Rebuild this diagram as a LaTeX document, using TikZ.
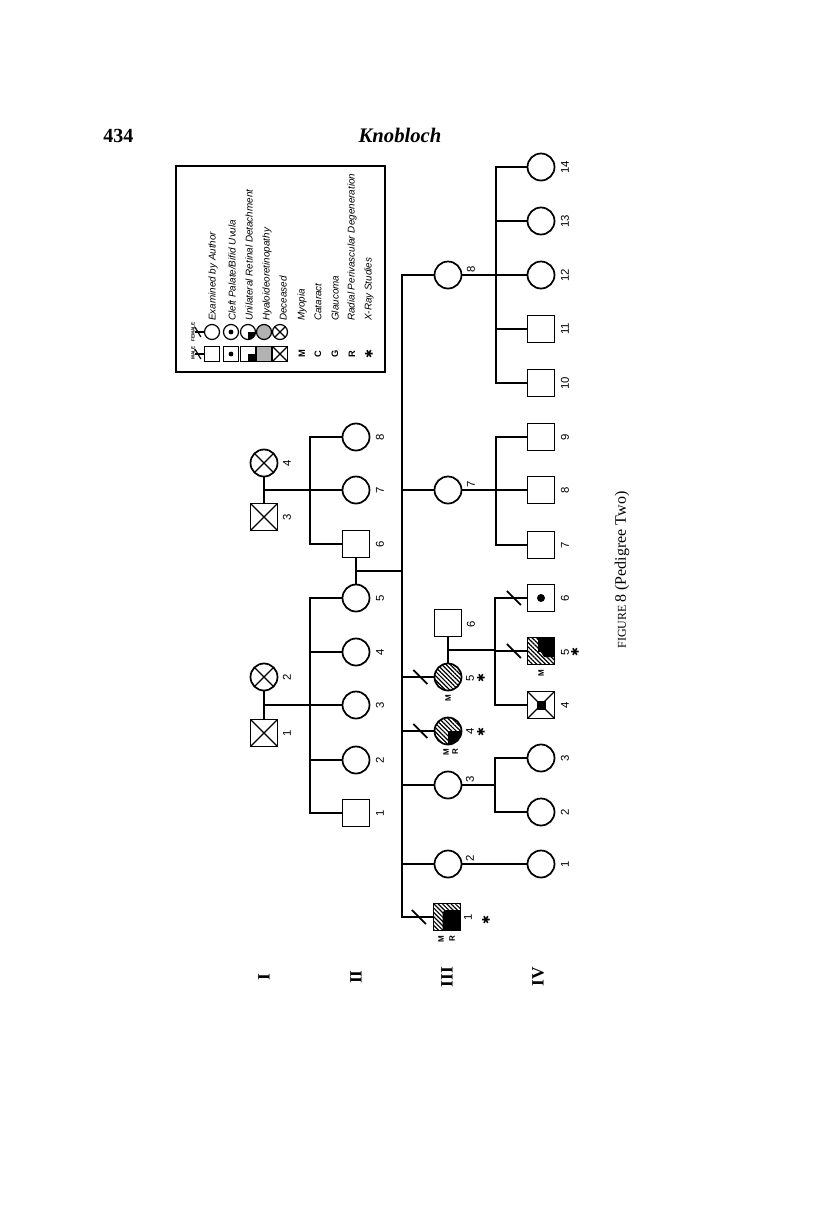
\documentclass[tikz,border=0pt]{standalone}
\usepackage{fontspec}
\setmainfont{Liberation Serif}
\setsansfont{Liberation Sans}
\newfontfamily\dejavu{DejaVu Sans}
\usetikzlibrary{patterns.meta,calc}
\tikzset{
  ln/.style={line width=1.3pt},
  pf/.style={circle, draw, line width=1.3pt, minimum size=20.25pt, inner sep=0pt},
  pm/.style={rectangle, draw, line width=1.3pt, minimum size=20.25pt, inner sep=0pt},
  lf/.style={circle, draw, line width=0.9pt, minimum size=11.25pt, inner sep=0pt},
  lm/.style={rectangle, draw, line width=0.9pt, minimum size=11.25pt, inner sep=0pt},
  hatchfill/.style={pattern={Lines[angle=-45,distance=2.3pt,line width=0.9pt]}},
  hatchonly/.style={path picture={\fill[hatchfill] (path picture bounding box.south west) rectangle (path picture bounding box.north east);}},
  hatchquad/.style={path picture={\fill[hatchfill] (path picture bounding box.south west) rectangle (path picture bounding box.north east);
      \fill (path picture bounding box.center) rectangle (path picture bounding box.south east);}},
  decd/.style={path picture={\draw[line width=1pt] (path picture bounding box.north west) -- (path picture bounding box.south east) (path picture bounding box.north east) -- (path picture bounding box.south west);}},
  cdot/.style={path picture={\fill (path picture bounding box.center) circle (#1);}},
  cdot/.default=3pt,
  quadr/.style={path picture={\fill (path picture bounding box.center) rectangle (path picture bounding box.south east);}},
  numlab/.style={rotate=90, font=\sffamily\fontsize{8.5}{10}\selectfont, inner sep=0pt},
  astr/.style={rotate=90, font=\dejavu\fontsize{8}{9}\selectfont, inner sep=0pt},
  ltr/.style={rotate=90, font=\sffamily\bfseries\fontsize{6}{7}\selectfont, inner sep=0pt},
  legtxt/.style={rotate=90, anchor=west, font=\sffamily\itshape\fontsize{7.4}{8}\selectfont, inner sep=0pt},
  legltr/.style={rotate=90, font=\sffamily\bfseries\fontsize{7}{8}\selectfont, inner sep=0pt},
  gen/.style={rotate=90, font=\bfseries\fontsize{13}{15}\selectfont, inner sep=0pt},
}
\newcommand\examslash[1]{\draw[ln] ($(#1)+(-7,-7)$) -- ($(#1)+(7,7)$);}
\begin{document}
\begin{tikzpicture}[x=0.75pt,y=-0.75pt]
\fill[white] (0,0) rectangle (816,1229);
\useasboundingbox (0,0) rectangle (816,1229);

% header
\node[anchor=base west, inner sep=0pt, font=\bfseries\fontsize{15}{18}\selectfont] (page) at (103,142) {434};
\node[anchor=base, inner sep=0pt, font=\bfseries\itshape\fontsize{15.5}{18}\selectfont] (author) at (400,142) {Knobloch};

% sibship line x positions
\coordinate (sA) at (310,0);
\coordinate (sB) at (402,0);
\coordinate (sC) at (496,0);
\coordinate (sD) at (495,0);

% ---------- Generation I
\node[pm,decd] (I1) at (264,733) {};
\node[pf,decd] (I2) at (264,677) {};
\node[pm,decd] (I3) at (264,517) {};
\node[pf,decd] (I4) at (264,463) {};
\foreach \i in {1,...,4} \node[numlab] (lI\i) at ($(I\i)+(23,0)$) {\i};

% ---------- Generation II
\node[pm] (II1) at (356,813) {};
\node[pf] (II2) at (356,760) {};
\node[pf] (II3) at (356,705) {};
\node[pf] (II4) at (356,652) {};
\node[pf] (II5) at (356,598) {};
\node[pm] (II6) at (356,544) {};
\node[pf] (II7) at (356,490) {};
\node[pf] (II8) at (356,437) {};
\foreach \i in {1,...,8} \node[numlab] (lII\i) at ($(II\i)+(24,0)$) {\i};

% couples of gen I and their children
\draw[ln] (I2) -- (I1);
\coordinate (m1) at ($(I2)!0.5!(I1)$);
\draw[ln] (m1) -- (m1 -| sA);
\draw[ln] (II5.west) -- (II5.west -| sA) -- (II1.west -| sA) -- (II1.west);
\foreach \n in {II2,II3,II4} \draw[ln] (\n.west) -- (\n.west -| sA);

\draw[ln] (I4) -- (I3);
\coordinate (m2) at ($(I4)!0.5!(I3)$);
\draw[ln] (m2) -- (m2 -| sA);
\draw[ln] (II8.west) -- (II8.west -| sA) -- (II6.west -| sA) -- (II6.west);
\draw[ln] (II7.west) -- (II7.west -| sA);

% ---------- Generation III
\node[pm,path picture={\fill[hatchfill] (path picture bounding box.south west) rectangle (path picture bounding box.north east);
   \fill[rounded corners=3pt] ($(path picture bounding box.center)+(-4.5,-7)$) rectangle ($(path picture bounding box.south east)+(3,3)$);}] (III1) at (447,917) {};
\node[pf] (III2) at (448,864) {};
\node[pf] (III3) at (448,785) {};
\node[pf,hatchquad] (III4) at (448,731) {};
\node[pf,hatchonly] (III5) at (448,677) {};
\node[pm] (III6) at (448,623) {};
\node[pf] (III7) at (448,490) {};
\node[pf] (III8) at (448,275) {};

\node[numlab] (lIII1) at (468,917) {1};
\node[numlab] (lIII2) at (470,858) {2};
\node[numlab] (lIII3) at (470,779) {3};
\node[numlab] (lIII4) at (470,731) {4};
\node[numlab] (lIII5) at (470,678) {5};
\node[numlab] (lIII6) at (471,624) {6};
\node[numlab] (lIII7) at (471,484) {7};
\node[numlab] (lIII8) at (471,269) {8};
\node[astr] (aIII1) at (486,920) {✱};
\node[astr] (aIII4) at (481,732) {✱};
\node[astr] (aIII5) at (481,678) {✱};
\node[ltr] (mIII1) at (441,939) {M};
\node[ltr] (rIII1) at (452,939) {R};
\node[ltr] (mIII4) at (446,752) {M};
\node[ltr] (rIII4) at (455,752) {R};
\node[ltr] (mIII5) at (448,698) {M};

% II5 x II6 and their children
\draw[ln] (II6) -- (II5);
\coordinate (m3) at ($(II6)!0.5!(II5)$);
\draw[ln] (m3) -- (m3 -| sB);
\draw[ln] (III8.west) -- (III8.west -| sB) -- (III1.west -| sB) -- (III1.west);
\foreach \n in {III7,III5,III4,III3,III2} \draw[ln] (\n.west) -- (\n.west -| sB);
\coordinate (e1) at ($(III1.west -| sB)!0.55!(III1.west)$);
\coordinate (e4) at ($(III4.west -| sB)!0.58!(III4.west)$);
\coordinate (e5) at ($(III5.west -| sB)!0.58!(III5.west)$);
\examslash{e1}
\examslash{e4}
\examslash{e5}

% ---------- Generation IV
\foreach \i/\y/\s in {1/864/pf,2/812/pf,3/758/pf,7/545/pm,8/490/pm,9/437/pm,10/383/pm,11/329/pm,12/275/pf,13/221/pf,14/167/pf}
  \node[\s] (IV\i) at (541,\y) {};
\node[pm,path picture={\draw[line width=1pt] (path picture bounding box.north west) -- (path picture bounding box.south east) (path picture bounding box.north east) -- (path picture bounding box.south west); \fill ($(path picture bounding box.center)+(-4.5,-4.5)$) rectangle ($(path picture bounding box.center)+(4.5,4.5)$);}] (IV4) at (541,705) {};
\node[pm,path picture={\fill[hatchfill] (path picture bounding box.south west) rectangle (path picture bounding box.north east);
   \fill ($(path picture bounding box.center)+(-3,-15)$) -- ($(path picture bounding box.center)+(15,-15)$) -- ($(path picture bounding box.center)+(15,6)$) -- ($(path picture bounding box.center)+(3,6)$) -- ($(path picture bounding box.center)+(0,1)$) -- ($(path picture bounding box.center)+(-3,1)$) -- cycle;}] (IV5) at (541,651) {};
\node[pm,cdot] (IV6) at (541,598) {};
\foreach \i in {1,...,4,6,7,8,9,10,11,12,13,14} \node[numlab] (lIV\i) at ($(IV\i)+(24,0)$) {\i};
\node[numlab] (lIV5) at (565,652) {5};
\node[astr] (aIV5) at (575,652) {✱};
\node[ltr] (mIV5) at (541,673) {M};

% III8's children
\draw[ln] (III8.east) -- (III8.east -| sC);
\draw[ln] (IV14.west) -- (IV14.west -| sC) -- (IV10.west -| sC) -- (IV10.west);
\foreach \n in {IV11,IV12,IV13} \draw[ln] (\n.west) -- (\n.west -| sC);
% III7's children
\draw[ln] (III7.east) -- (III7.east -| sC);
\draw[ln] (IV9.west) -- (IV9.west -| sC) -- (IV7.west -| sC) -- (IV7.west);
\draw[ln] (IV8.west) -- (IV8.west -| sC);
% III5 x III6 and children
\draw[ln] (III6) -- (III5);
\coordinate (m4) at ($(III6)!0.5!(III5)$);
\draw[ln] (m4) -- (m4 -| sD);
\draw[ln] (IV6.west) -- (IV6.west -| sD) -- (IV4.west -| sD) -- (IV4.west);
\draw[ln] (IV5.west) -- (IV5.west -| sD);
\coordinate (e6) at ($(IV6.west -| sD)!0.6!(IV6.west)$);
\coordinate (e7) at ($(IV5.west -| sD)!0.6!(IV5.west)$);
\examslash{e6}
\examslash{e7}
% III3's children
\draw[ln] (III3.east) -- (III3.east -| sD);
\draw[ln] (IV3.west) -- (IV3.west -| sD) -- (IV2.west -| sD) -- (IV2.west);
% III2's child
\draw[ln] (III2) -- (IV1);

% generation numerals
\node[gen] (gI) at (264,977) {I};
\node[gen] (gII) at (356,977) {II};
\node[gen] (gIII) at (447,977) {III};
\node[gen] (gIV) at (538,977) {IV};

% caption
\node[rotate=90, inner sep=0pt, font=\fontsize{12}{14}\selectfont] (cap) at (622,570) {{\fontsize{9}{10}\selectfont FIGURE}\,8 (Pedigree Two)};

% ---------- Legend
\draw[line width=0.9pt] (176,166) rectangle (385,372);
\node[rotate=90, inner sep=0pt, font=\sffamily\bfseries\fontsize{3.5}{4}\selectfont] (hm) at (193,353) {MALE};
\node[rotate=90, inner sep=0pt, font=\sffamily\bfseries\fontsize{3.5}{4}\selectfont] (hf) at (193,332) {FEMALE};
\node[lm] (Lm1) at (212,354) {};
\node[lf] (Lf1) at (212,332) {};
\node[lm,cdot=1.8pt] (Lm2) at (231,354) {};
\node[lf,cdot=1.8pt] (Lf2) at (231,332) {};
\node[lm,quadr] (Lm3) at (248,354) {};
\node[lf,quadr] (Lf3) at (248,332) {};
\node[lm,fill=gray!60] (Lm4) at (264,354) {};
\node[lf,fill=gray!60] (Lf4) at (264,332) {};
\node[lm,decd] (Lm5) at (280,354) {};
\node[lf,decd] (Lf5) at (280,332) {};
\foreach \n in {Lm1,Lf1}{
  \draw[line width=0.9pt] (\n.west) -- ++(-9,0);
  \draw[line width=0.9pt] ($(\n.west)+(-9,-5)$) -- ($(\n.west)+(-3,5)$);
}
\node[legltr] (LM) at (302,354) {M};
\node[legltr] (LC) at (318,354) {C};
\node[legltr] (LG) at (335,354) {G};
\node[legltr] (LR) at (352,354) {R};
\node[astr] (LX) at (369,354) {✱};
\node[legtxt] (t1) at (213,321) {Examined by Author};
\node[legtxt] (t2) at (232,321) {Cleft Palate/Bifid Uvula};
\node[legtxt] (t3) at (249,321) {Unilateral Retinal Detachment};
\node[legtxt] (t4) at (267,321) {Hyaloideoretinopathy};
\node[legtxt] (t5) at (283,321) {Deceased};
\node[legtxt] (t6) at (302,321) {Myopia};
\node[legtxt] (t7) at (318,321) {Cataract};
\node[legtxt] (t8) at (335,321) {Glaucoma};
\node[legtxt] (t9) at (352,321) {Radial Perivascular Degeneration};
\node[legtxt] (t10) at (369,321) {X-Ray Studies};
\end{tikzpicture}
\end{document}
